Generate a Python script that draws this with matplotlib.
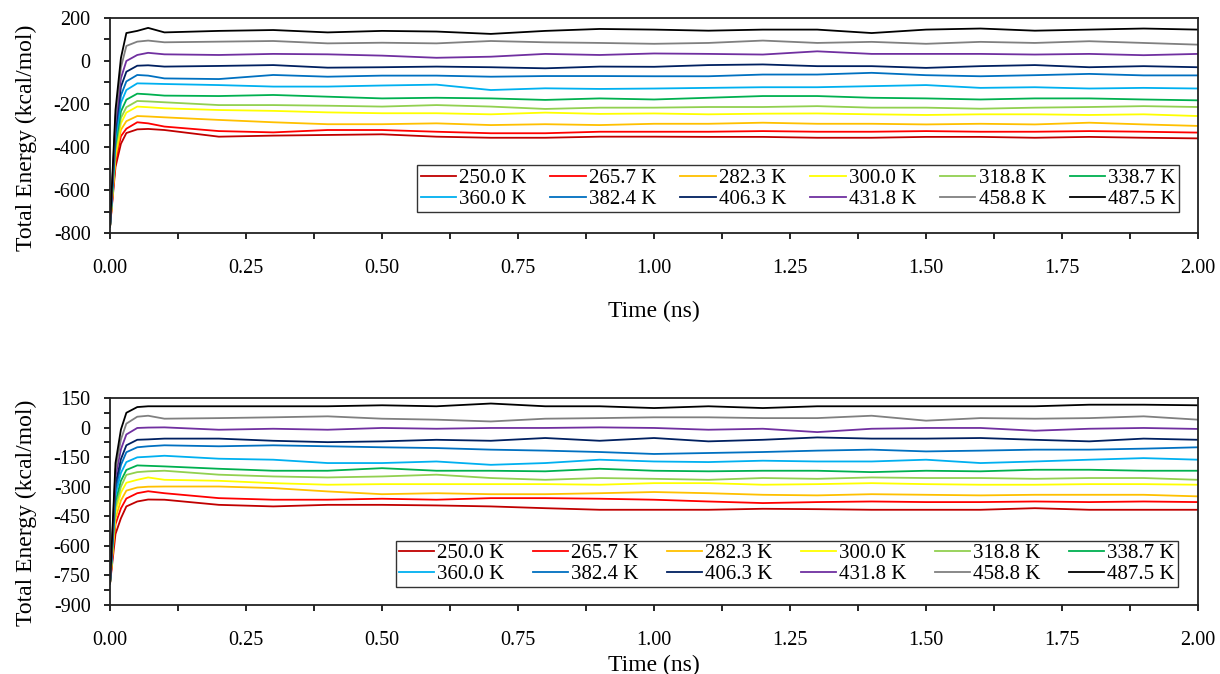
import matplotlib
matplotlib.use("Agg")
import matplotlib.pyplot as plt
from matplotlib.ticker import MultipleLocator, FormatStrFormatter

plt.rcParams['font.family'] = ['Liberation Serif', 'DejaVu Serif']
plt.rcParams['axes.unicode_minus'] = False

# time points (ns)
time_ns = [0, 0.01, 0.02, 0.03, 0.05, 0.07,
           0.1, 0.2, 0.3, 0.4, 0.5, 0.6, 0.7, 0.8, 0.9, 1.0,
           1.1, 1.2, 1.3, 1.4, 1.5, 1.6, 1.7, 1.8, 1.9, 2.0]

temps = ["250.0 K", "265.7 K", "282.3 K", "300.0 K", "318.8 K", "338.7 K",
         "360.0 K", "382.4 K", "406.3 K", "431.8 K", "458.8 K", "487.5 K"]
colors = ["#C00000", "#FF0000", "#FFC000", "#FFFF00", "#92D050", "#00B050",
          "#00B0F0", "#0070C0", "#002060", "#7030A0", "#808080", "#000000"]

# top panel, total energy (kcal/mol), one list per temperature
top_250 = [-770, -493, -385, -335, -318, -316, -321, -352, -347, -344, -341, -352, -357, -357, -352, -352,
           -353, -353, -357, -357, -353, -353, -357, -353, -357, -360]
top_266 = [-770, -470, -350, -315, -285, -290, -305, -326, -332, -321, -321, -329, -336, -336, -329, -329,
           -329, -326, -329, -329, -326, -329, -329, -326, -329, -333]
top_282 = [-770, -450, -320, -280, -256, -258, -262, -274, -285, -294, -294, -290, -298, -294, -298, -292,
           -292, -287, -292, -292, -295, -292, -295, -287, -295, -302]
top_300 = [-770, -430, -290, -240, -212, -215, -220, -228, -232, -239, -243, -243, -248, -240, -246, -244,
           -248, -245, -244, -248, -251, -248, -248, -251, -248, -256]
top_319 = [-770, -410, -265, -215, -186, -188, -192, -205, -205, -208, -212, -205, -212, -223, -217, -217,
           -214, -214, -210, -217, -217, -222, -217, -214, -210, -214]
top_339 = [-770, -390, -235, -180, -152, -155, -161, -163, -158, -166, -174, -171, -174, -181, -174, -179,
           -171, -163, -163, -171, -174, -179, -174, -174, -179, -183]
top_360 = [-770, -365, -195, -135, -104, -105, -107, -112, -119, -119, -114, -110, -135, -127, -130, -128,
           -125, -122, -122, -117, -112, -125, -122, -128, -125, -128]
top_382 = [-770, -340, -160, -95, -65, -68, -81, -84, -65, -73, -68, -68, -73, -70, -70, -71,
           -71, -63, -63, -55, -66, -71, -66, -60, -67, -67]
top_406 = [-770, -315, -120, -50, -22, -20, -26, -23, -19, -31, -29, -26, -29, -34, -26, -27,
           -19, -16, -24, -24, -32, -24, -19, -29, -24, -29]
top_432 = [-770, -290, -80, 0, 28, 38, 31, 28, 33, 31, 25, 15, 20, 33, 28, 35,
           33, 30, 45, 33, 33, 33, 30, 33, 27, 33]
top_459 = [-770, -260, -30, 70, 90, 95, 87, 90, 93, 82, 85, 82, 93, 87, 84, 80,
           84, 95, 84, 89, 80, 89, 84, 92, 84, 76]
top_488 = [-770, -228, 14, 130, 140, 154, 133, 140, 144, 133, 140, 137, 126, 140, 149, 146,
           141, 146, 146, 130, 146, 151, 141, 146, 151, 146]

# bottom panel
bot_250 = [-790, -540, -460, -400, -375, -365, -366, -392, -400, -392, -392, -395, -400, -409, -417, -417,
           -417, -412, -414, -417, -417, -417, -409, -417, -417, -417]
bot_266 = [-790, -490, -410, -360, -333, -323, -333, -358, -366, -366, -361, -366, -358, -358, -361, -366,
           -375, -383, -378, -375, -378, -378, -375, -378, -375, -378]
bot_282 = [-790, -460, -370, -320, -304, -300, -299, -299, -307, -324, -338, -333, -338, -338, -333, -327,
           -333, -341, -344, -338, -341, -344, -341, -341, -341, -349]
bot_300 = [-790, -430, -330, -280, -265, -253, -265, -270, -282, -290, -287, -287, -287, -287, -290, -282,
           -282, -290, -287, -282, -287, -290, -290, -287, -287, -290]
bot_319 = [-790, -405, -300, -240, -226, -222, -219, -239, -248, -253, -248, -239, -256, -265, -256, -260,
           -265, -256, -260, -253, -256, -256, -260, -256, -256, -265]
bot_339 = [-790, -375, -270, -215, -192, -194, -197, -209, -219, -219, -206, -219, -219, -222, -209, -219,
           -222, -219, -219, -226, -219, -222, -214, -214, -219, -219]
bot_360 = [-790, -345, -230, -175, -151, -148, -143, -158, -163, -180, -180, -172, -189, -180, -163, -172,
           -175, -168, -172, -172, -163, -180, -172, -163, -155, -163]
bot_382 = [-790, -315, -190, -125, -100, -95, -90, -95, -90, -95, -100, -104, -112, -117, -124, -134,
           -129, -124, -117, -112, -121, -117, -112, -112, -107, -100]
bot_406 = [-790, -285, -160, -90, -62, -60, -56, -56, -67, -74, -70, -62, -67, -53, -67, -53,
           -70, -62, -50, -56, -56, -53, -62, -70, -56, -62]
bot_432 = [-790, -250, -110, -35, -2, 0, 1, -11, -6, -11, -2, -6, -2, -2, 1, -2,
           -11, -6, -23, -6, -2, -2, -16, -6, -2, -7]
bot_459 = [-790, -215, -60, 20, 55, 60, 45, 48, 52, 57, 45, 40, 31, 45, 48, 52,
           52, 48, 48, 60, 35, 48, 45, 48, 57, 40]
bot_488 = [-790, -180, -10, 75, 104, 108, 108, 108, 108, 108, 113, 108, 122, 108, 108, 99,
           108, 99, 108, 108, 108, 108, 108, 116, 116, 113]

top_series = [top_250, top_266, top_282, top_300, top_319, top_339,
              top_360, top_382, top_406, top_432, top_459, top_488]
bot_series = [bot_250, bot_266, bot_282, bot_300, bot_319, bot_339,
              bot_360, bot_382, bot_406, bot_432, bot_459, bot_488]

fig = plt.figure(figsize=(12.2, 6.74), dpi=100)
ax1 = fig.add_axes([0.0902, 0.6543, 0.8918, 0.3190])
ax2 = fig.add_axes([0.0902, 0.1024, 0.8918, 0.3071])


def draw_panel(ax, series, ylim, ystep, xlabelpad, leg_anchor, colsp):
    lines = []
    for vals, c, lab in zip(series, colors, temps):
        ln, = ax.plot(time_ns, vals, color=c, lw=1.3, label=lab)
        lines.append(ln)
    ax.set_xlim(0, 2)
    ax.set_ylim(*ylim)
    ax.xaxis.set_major_locator(MultipleLocator(0.25))
    ax.xaxis.set_minor_locator(MultipleLocator(0.125))
    ax.xaxis.set_major_formatter(FormatStrFormatter('%.2f'))
    ax.yaxis.set_major_locator(MultipleLocator(ystep))
    ax.yaxis.set_minor_locator(MultipleLocator(ystep / 2))
    ax.tick_params(axis='both', which='both', direction='out', length=4, width=1.2,
                   labelsize=14.5, color='black')
    ax.tick_params(axis='x', which='major', pad=15)
    ax.tick_params(axis='y', which='major', pad=10)
    for s in ax.spines.values():
        s.set_linewidth(1.3)
        s.set_color('#222222')
    ax.set_xlabel("Time (ns)", fontsize=17, labelpad=xlabelpad)
    ax.set_ylabel("Total Energy (kcal/mol)", fontsize=17)
    ax.yaxis.set_label_coords(-0.067, 0.445)

    # legend fills row by row, matplotlib fills by column: reorder
    order = []
    for col in range(6):
        order += [col, col + 6]
    leg = ax.legend([lines[i] for i in order], [temps[i] for i in order],
                    ncol=6, loc='lower right', bbox_to_anchor=leg_anchor,
                    borderaxespad=0, fontsize=15, frameon=True, fancybox=False,
                    handlelength=1.7, handletextpad=0.15, columnspacing=colsp,
                    labelspacing=0.05, borderpad=0.15)
    leg.get_frame().set_edgecolor('black')
    leg.get_frame().set_linewidth(1.0)


draw_panel(ax1, top_series, (-800, 200), 200, 16, (0.9825, 0.098), 1.15)
draw_panel(ax2, bot_series, (-900, 150), 150, 3, (0.9816, 0.087), 1.35)

fig.savefig("out.png", dpi=100)
